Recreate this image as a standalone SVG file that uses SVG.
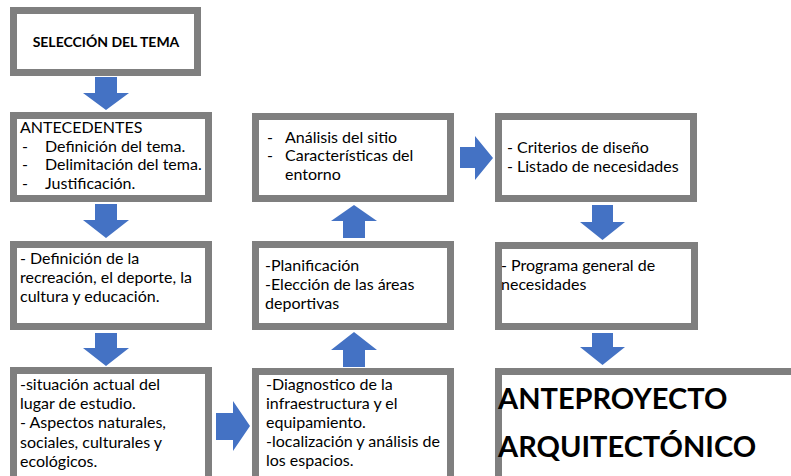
<svg xmlns="http://www.w3.org/2000/svg" width="791" height="476" viewBox="0 0 791 476">
<style>
.box{fill:#fff;stroke:#7f7f7f;stroke-width:7}
.t{font-family:Lato,"Open Sans","Liberation Sans",sans-serif;font-size:16px;fill:#000}
.b{font-family:Lato,"Open Sans","Liberation Sans",sans-serif;font-weight:bold;fill:#000}
.arr{fill:#4472c4}
</style>
<rect width="791" height="476" fill="#fff"/>
<g id="n1"><rect class="box" x="13.5" y="10.5" width="184" height="62"/>
<text class="b" font-size="14" x="106" y="47" text-anchor="middle">SELECCIÓN DEL TEMA</text></g>
<g id="n2"><rect class="box" x="13.5" y="115.5" width="195" height="83"/>
<text class="t" x="20" y="133">ANTECEDENTES</text>
<text class="t" x="22" y="152">-</text><text class="t" x="45" y="152">Definición del tema.</text>
<text class="t" x="22" y="170">-</text><text class="t" x="45" y="170">Delimitación del tema.</text>
<text class="t" x="22" y="189">-</text><text class="t" x="45" y="189">Justificación.</text></g>
<g id="n3"><rect class="box" x="13.5" y="244.5" width="195" height="82"/>
<text class="t" x="20" y="264">- Definición de la</text>
<text class="t" x="20" y="283">recreación, el deporte, la</text>
<text class="t" x="20" y="302">cultura y educación.</text></g>
<g id="n4"><rect class="box" x="13.5" y="370.5" width="195" height="120"/>
<text class="t" x="20" y="390">-situación actual del</text>
<text class="t" x="20" y="409">lugar de estudio.</text>
<text class="t" x="20" y="428">- Aspectos naturales,</text>
<text class="t" x="20" y="448">sociales, culturales y</text>
<text class="t" x="20" y="467">ecológicos.</text></g>
<g id="n5"><rect class="box" x="255.5" y="371.5" width="195" height="120"/>
<text class="t" x="266" y="390">-Diagnostico de la</text>
<text class="t" x="266" y="409">infraestructura y el</text>
<text class="t" x="266" y="428">equipamiento.</text>
<text class="t" x="266" y="447">-localización y análisis de</text>
<text class="t" x="266" y="466">los espacios.</text></g>
<g id="n6"><rect class="box" x="255.5" y="244.5" width="195" height="82"/>
<text class="t" x="265" y="271">-Planificación</text>
<text class="t" x="265" y="290">-Elección de las áreas</text>
<text class="t" x="265" y="309">deportivas</text></g>
<g id="n7"><rect class="box" x="255.5" y="116.5" width="195" height="82"/>
<text class="t" x="267" y="143">-</text><text class="t" x="285" y="143">Análisis del sitio</text>
<text class="t" x="267" y="161">-</text><text class="t" x="285" y="161">Características del</text>
<text class="t" x="285" y="180">entorno</text></g>
<g id="n8"><rect class="box" x="498.5" y="116.5" width="195" height="82"/>
<text class="t" x="507" y="153">- Criterios de diseño</text>
<text class="t" x="507" y="172">- Listado de necesidades</text></g>
<g id="n9"><rect class="box" x="498.5" y="245.5" width="196" height="81"/>
<text class="t" x="501" y="271">- Programa general de</text>
<text class="t" x="501" y="290">necesidades</text></g>
<g id="n10"><rect class="box" x="498.5" y="371.5" width="310" height="120"/>
<text class="b" font-size="29" x="498" y="409">ANTEPROYECTO</text>
<text class="b" font-size="29" x="498" y="457">ARQUITECTÓNICO</text></g>
<g id="connectors">
<polygon class="arr" points="95,77 117,77 117,93 129,93 106,110 83,93 95,93"/>
<polygon class="arr" points="95,204 117,204 117,220 129,220 106,238 83,220 95,220"/>
<polygon class="arr" points="95,333 117,333 117,348 129,348 106,366 83,348 95,348"/>
<polygon class="arr" points="216,413 233,413 233,401 250,426 233,451 233,440 216,440"/>
<polygon class="arr" points="343,367 365,367 365,350 377,350 354,332 331,350 343,350"/>
<polygon class="arr" points="343,238 365,238 365,221 377,221 354,205 331,221 343,221"/>
<polygon class="arr" points="460,147 475,147 475,136 493,158 475,180 475,168 460,168"/>
<polygon class="arr" points="592,205 613,205 613,222 625,222 602.5,240 580,222 592,222"/>
<polygon class="arr" points="592,333 613,333 613,347 625,347 602.5,365 580,347 592,347"/>
</g>
</svg>
